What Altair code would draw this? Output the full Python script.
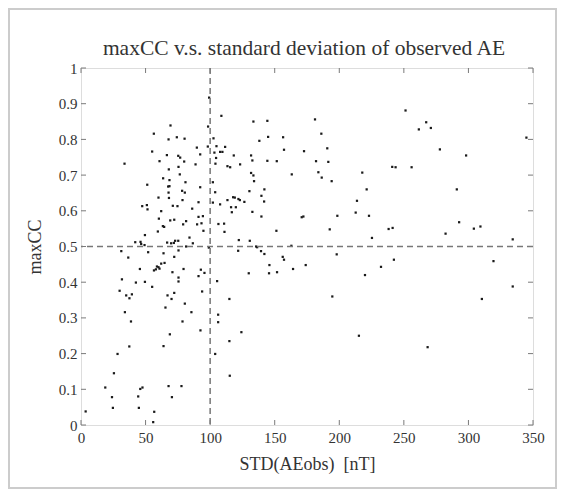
import altair as alt
import pandas as pd

std_vals = [
    99.2, 108.7, 133.5, 69.3, 98.4, 56.4, 67.8, 74.2, 80.2, 102.6, 138.1, 89.7, 98.2, 104.9, 111.6,
    55.1, 103.3, 107.7, 109.5, 66.5, 92.3, 75.3, 76.8, 118.3, 131.7, 33.7, 60.8, 79.9, 88.7, 104.6,
    104.1, 132.7, 68.0, 75.5, 113.4, 115.5, 123.2, 131.7, 133.5, 76.5, 63.6, 68.5, 80.9, 102.1, 134.0,
    51.3, 67.5, 68.5, 92.3, 78.3, 80.4, 67.8, 103.9, 130.4,
    68.1, 60.0, 78.6, 91.0, 102.1, 107.7, 113.4, 117.8, 119.1, 121.9, 123.0, 126.5, 47.4, 51.0, 51.5,
    71.1, 74.7, 86.1, 62.1, 116.2, 119.9, 116.8, 132.7, 91.0, 94.4, 60.3, 69.1, 72.2, 81.4, 79.1,
    89.9, 93.3, 106.4, 110.8, 63.4, 64.4, 94.8, 59.5, 111.1, 49.5, 84.0, 42.0, 46.1, 46.6, 66.7,
    69.8, 71.9, 72.9, 75.3, 86.6, 122.2, 130.7, 49.2, 81.4, 99.0, 136.4, 31.2, 52.0, 63.9, 75.5,
    121.7, 36.6, 72.2, 64.7, 62.1, 58.8, 60.0, 60.8, 58.0, 56.5, 45.6, 79.4, 70.8, 92.8, 91.0,
    95.6, 129.9, 75.5, 75.5, 31.7, 105.4, 42.5, 49.5, 55.1, 29.9, 35.0, 39.4, 37.5, 67.0, 72.2,
    70.1, 93.8, 114.9,
    34.0, 38.7, 37.4, 28.3, 25.5, 18.8, 24.0, 24.7, 3.6, 44.3, 45.9, 47.6, 44.8, 56.7, 55.9,
    65.4, 80.4, 68.8, 63.9, 85.5, 78.6, 92.5, 67.8, 77.8, 70.4, 106.2, 106.2, 103.9,
    114.9, 115.2, 124.2, 194.6, 215.2,
    144.3, 181.2, 144.9, 156.5, 186.1, 157.2, 172.7, 144.3, 151.6, 182.0, 190.7, 191.5,
    163.2, 183.8, 186.4, 194.1, 217.8, 221.2, 142.0, 139.7, 141.8, 139.7, 170.9, 172.2, 198.5,
    213.7, 212.7, 223.0, 151.3, 192.6, 135.6, 162.9, 139.4, 142.0, 156.2, 157.2, 198.0, 145.9,
    174.0, 164.2, 145.6, 151.8, 219.9,
    251.3, 267.3, 261.6, 270.9, 277.9, 298.2, 344.9, 241.0, 243.6, 256.0,
    291.0, 292.8, 238.2, 241.3, 282.3, 304.2, 309.3, 225.3, 334.3, 242.3, 232.3, 319.4, 334.3,
    310.4, 268.4,
]
maxcc_vals = [
    0.917, 0.866, 0.850, 0.839, 0.836, 0.816, 0.800, 0.806, 0.802, 0.803, 0.796, 0.777, 0.780, 0.781, 0.779,
    0.766, 0.763, 0.765, 0.765, 0.756, 0.758, 0.754, 0.749, 0.755, 0.755, 0.732, 0.739, 0.738, 0.730, 0.748,
    0.732, 0.741, 0.716, 0.723, 0.725, 0.722, 0.730, 0.706, 0.699, 0.702, 0.691, 0.686, 0.680, 0.680, 0.683,
    0.673, 0.668, 0.669, 0.666, 0.656, 0.651, 0.651, 0.652, 0.655,
    0.636, 0.637, 0.630, 0.624, 0.623, 0.618, 0.630, 0.638, 0.637, 0.633, 0.630, 0.625, 0.613, 0.616, 0.604,
    0.614, 0.613, 0.606, 0.599, 0.610, 0.610, 0.596, 0.597, 0.583, 0.585, 0.578, 0.573, 0.575, 0.571, 0.562,
    0.562, 0.565, 0.563, 0.564, 0.557, 0.555, 0.544, 0.542, 0.541, 0.532, 0.525, 0.512, 0.513, 0.507, 0.511,
    0.509, 0.510, 0.516, 0.516, 0.509, 0.518, 0.516, 0.504, 0.500, 0.497, 0.498, 0.487, 0.484, 0.481, 0.489,
    0.488, 0.469, 0.471, 0.454, 0.452, 0.444, 0.442, 0.438, 0.436, 0.433, 0.437, 0.437, 0.428, 0.435, 0.417,
    0.426, 0.425, 0.413, 0.402, 0.408, 0.403, 0.399, 0.401, 0.387, 0.376, 0.363, 0.366, 0.355, 0.363, 0.370,
    0.353, 0.374, 0.353,
    0.316, 0.290, 0.220, 0.199, 0.145, 0.105, 0.078, 0.048, 0.038, 0.080, 0.101, 0.105, 0.048, 0.037, 0.008,
    0.329, 0.340, 0.254, 0.221, 0.316, 0.290, 0.265, 0.109, 0.109, 0.078, 0.309, 0.288, 0.199,
    0.235, 0.138, 0.260, 0.360, 0.250,
    0.852, 0.856, 0.807, 0.806, 0.816, 0.771, 0.767, 0.740, 0.739, 0.739, 0.775, 0.737,
    0.702, 0.708, 0.693, 0.683, 0.707, 0.660, 0.660, 0.642, 0.626, 0.584, 0.582, 0.584, 0.586,
    0.628, 0.595, 0.586, 0.544, 0.548, 0.500, 0.502, 0.487, 0.479, 0.471, 0.463, 0.478, 0.448,
    0.448, 0.437, 0.425, 0.428, 0.420,
    0.881, 0.848, 0.828, 0.832, 0.772, 0.755, 0.805, 0.723, 0.722, 0.722,
    0.660, 0.568, 0.549, 0.552, 0.536, 0.550, 0.556, 0.524, 0.520, 0.463, 0.443, 0.459, 0.388,
    0.353, 0.218,
]

x_ticks = [0, 50, 100, 150, 200, 250, 300, 350]
y_ticks = [0, 0.1, 0.2, 0.3, 0.4, 0.5, 0.6, 0.7, 0.8, 0.9, 1]
ref_x = [100]
ref_y = [0.5]
title_text = ["maxCC v.s. standard deviation of observed AE"]

W, H = 452, 357
FONT = "Liberation Serif"
TXT = "#333333"
FRAME = "#7a7a7a"

df = pd.DataFrame({"std": std_vals, "cc": maxcc_vals})
xt = pd.DataFrame({"std": x_ticks})
yt = pd.DataFrame({"cc": y_ticks})

xs = alt.Scale(domain=[0, 350], nice=False, zero=False)
ys = alt.Scale(domain=[0, 1], nice=False, zero=False)

x_axis = alt.Axis(
    title="STD(AEobs)\u00a0 [nT]", values=x_ticks, ticks=False, domain=False, grid=False,
    labelOverlap=False, labelFlush=False,
    labelFont=FONT, labelFontSize=15, labelColor=TXT, labelPadding=5,
    titleFont=FONT, titleFontSize=18, titleFontWeight="normal", titleColor=TXT, titlePadding=10)
y_axis = alt.Axis(
    title="maxCC", values=y_ticks, format="~g", ticks=False, domain=False, grid=False,
    labelOverlap=False, labelFlush=False,
    labelFont=FONT, labelFontSize=15, labelColor=TXT, labelPadding=4,
    titleFont=FONT, titleFontSize=18, titleFontWeight="normal", titleColor=TXT, titlePadding=14)

X = alt.X("std:Q", scale=xs, axis=x_axis)
Y = alt.Y("cc:Q", scale=ys, axis=y_axis)

pts = alt.Chart(df).mark_square(size=5, color="#1a1a1a", opacity=1).encode(x=X, y=Y)

tick_len = 5
bt = alt.Chart(xt).mark_rule(color=FRAME, strokeWidth=1).encode(
    x=X, y=alt.value(H), y2=alt.value(H - tick_len))
tt = alt.Chart(xt).mark_rule(color=FRAME, strokeWidth=1).encode(
    x=X, y=alt.value(0), y2=alt.value(tick_len))
lt = alt.Chart(yt).mark_rule(color=FRAME, strokeWidth=1).encode(
    y=Y, x=alt.value(0), x2=alt.value(tick_len))
rt = alt.Chart(yt).mark_rule(color=FRAME, strokeWidth=1).encode(
    y=Y, x=alt.value(W), x2=alt.value(W - tick_len))

vline = alt.Chart(pd.DataFrame({"std": ref_x})).mark_rule(
    color="#777777", strokeWidth=1.5, strokeDash=[6, 4]).encode(x=X)
hline = alt.Chart(pd.DataFrame({"cc": ref_y})).mark_rule(
    color="#777777", strokeWidth=1.5, strokeDash=[6, 4]).encode(y=Y)

border = alt.Chart(pd.DataFrame({"a": [0]})).mark_rect(
    fillOpacity=0, stroke="#cccccc", strokeWidth=2).encode(
    x=alt.value(-72), x2=alt.value(475), y=alt.value(-59), y2=alt.value(420))

title = alt.Chart(pd.DataFrame({"t": title_text})).mark_text(
    font=FONT, fontSize=21.5, color=TXT, align="center", baseline="alphabetic").encode(
    text="t:N", x=alt.value(W / 2 - 3), y=alt.value(-13))

chart = alt.layer(pts, border, vline, hline, bt, tt, lt, rt, title).properties(
    width=W, height=H,
    autosize=alt.AutoSizeParams(type="none"),
    padding={"left": 73, "top": 60, "right": 24, "bottom": 64},
).configure_view(stroke=FRAME, strokeWidth=1.2).configure_axis(
    labelOverlap=False).configure(background="white")

chart.save("out.html", embed_options={"renderer": "svg", "actions": False})
